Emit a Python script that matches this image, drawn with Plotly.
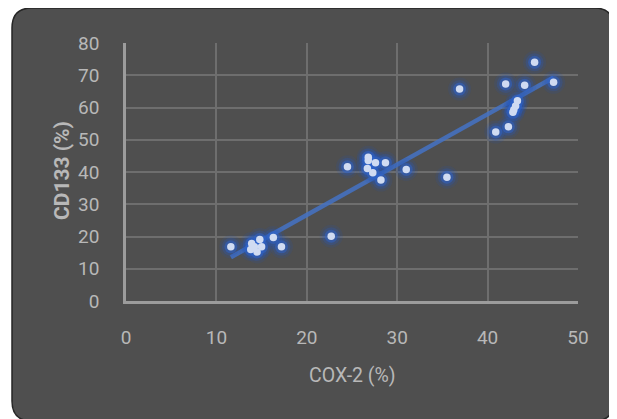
import numpy as np
import plotly.graph_objects as go

# Data
cox2 = [11.6, 13.9, 13.8, 14.5, 14.8, 15.0, 14.2, 16.3, 17.2, 22.7,
        24.5, 26.8, 26.8, 26.7, 27.6, 27.3, 28.7, 28.2, 31.0, 35.5,
        36.9, 40.9, 42.3, 42.0, 44.1, 45.2, 47.3, 43.3, 43.1, 42.9, 42.8]
cd133 = [16.8, 17.8, 16.0, 15.2, 19.1, 16.8, 16.8, 19.7, 16.8, 20.1,
         41.6, 44.6, 43.6, 41.1, 42.9, 39.8, 42.9, 37.5, 40.8, 38.4,
         65.7, 52.4, 54.0, 67.3, 66.9, 74.0, 67.8, 62.1, 60.5, 59.3, 58.5]
x_ticks = [0, 10, 20, 30, 40, 50]
y_ticks = [0, 10, 20, 30, 40, 50, 60, 70, 80]
x_title = "COX-2 (%)"
y_title = "CD133 (%)"

OFF = 8  # page body margin
W, H = 617 - OFF, 419 - OFF
ML, MR, MT, MB = 118, 39, 35, 118
PW, PH = W - ML - MR, H - MT - MB

def px2paper(px, py):
    # px, py in browser-window pixels
    fx, fy = px - OFF, py - OFF
    return (fx - ML) / PW, (H - MB - fy) / PH

# linear trendline from data
slope, intercept = np.polyfit(cox2, cd133, 1)
tx = np.array([min(cox2), max(cox2)])
ty = slope * tx + intercept

fig = go.Figure()
fig.add_trace(go.Scatter(x=tx, y=ty, mode="lines",
                         line=dict(color="rgba(68,114,196,0.85)", width=4.5),
                         hoverinfo="skip", showlegend=False))
# glow layers
for size, col in [(23, "rgba(35,85,185,0.14)"), (18, "rgba(38,90,190,0.26)"),
                  (13, "rgba(45,100,205,0.5)")]:
    fig.add_trace(go.Scatter(x=cox2, y=cd133, mode="markers",
                             marker=dict(size=size, color=col, line=dict(width=0)),
                             showlegend=False, hoverinfo="skip"))
fig.add_trace(go.Scatter(x=cox2, y=cd133, mode="markers",
                         marker=dict(size=7.5, color="#d0dbf2", line=dict(width=0)),
                         showlegend=False))

# rounded dark frame
x0, y0 = px2paper(12, 8)
x1, y1 = px2paper(614, 421)
r = 20
rx, ry = r / PW, r / PH
path = (f"M {x0+rx},{y0} L {x1-rx},{y0} Q {x1},{y0} {x1},{y0-ry} "
        f"L {x1},{y1+ry} Q {x1},{y1} {x1-rx},{y1} L {x0+rx},{y1} "
        f"Q {x0},{y1} {x0},{y1+ry} L {x0},{y0-ry} Q {x0},{y0} {x0+rx},{y0} Z")
fig.add_shape(type="path", path=path, xref="paper", yref="paper",
              fillcolor="#4f4f4f", line=dict(color="#262626", width=1.5), layer="below")

font_family = "Roboto, Open Sans, sans-serif"
txt_col = "#b8b8b8"

ax, ay = px2paper(352, 375)
bx, by = px2paper(62, 171)
fig.add_annotation(x=ax, y=ay, xref="paper", yref="paper", text=x_title, showarrow=False,
                   xanchor="center", yanchor="middle", font=dict(size=19.5, color=txt_col))
fig.add_annotation(x=bx, y=by, xref="paper", yref="paper", text="<b>" + y_title + "</b>",
                   showarrow=False, textangle=-90, xanchor="center", yanchor="middle",
                   font=dict(size=21, color=txt_col))

fig.update_layout(
    width=W, height=H,
    margin=dict(l=ML, r=MR, t=MT, b=MB),
    paper_bgcolor="white", plot_bgcolor="rgba(0,0,0,0)",
    font=dict(family=font_family, color=txt_col, size=19),
    showlegend=False,
    xaxis=dict(range=[0, 50], tickvals=x_ticks, showgrid=True, gridcolor="#6e6e6e", gridwidth=1.5,
               zeroline=False, showline=True, linecolor="#9c9c9c", linewidth=2.5,
               ticks="outside", ticklen=17, tickcolor="rgba(0,0,0,0)",
               tickfont=dict(size=19, color=txt_col)),
    yaxis=dict(range=[0, 80], tickvals=y_ticks, showgrid=True, gridcolor="#6e6e6e", gridwidth=1.5,
               zeroline=False, showline=True, linecolor="#9c9c9c", linewidth=2.5,
               ticks="outside", ticklen=20, tickcolor="rgba(0,0,0,0)",
               tickfont=dict(size=19, color=txt_col)),
)

fig.write_html("out.html")
